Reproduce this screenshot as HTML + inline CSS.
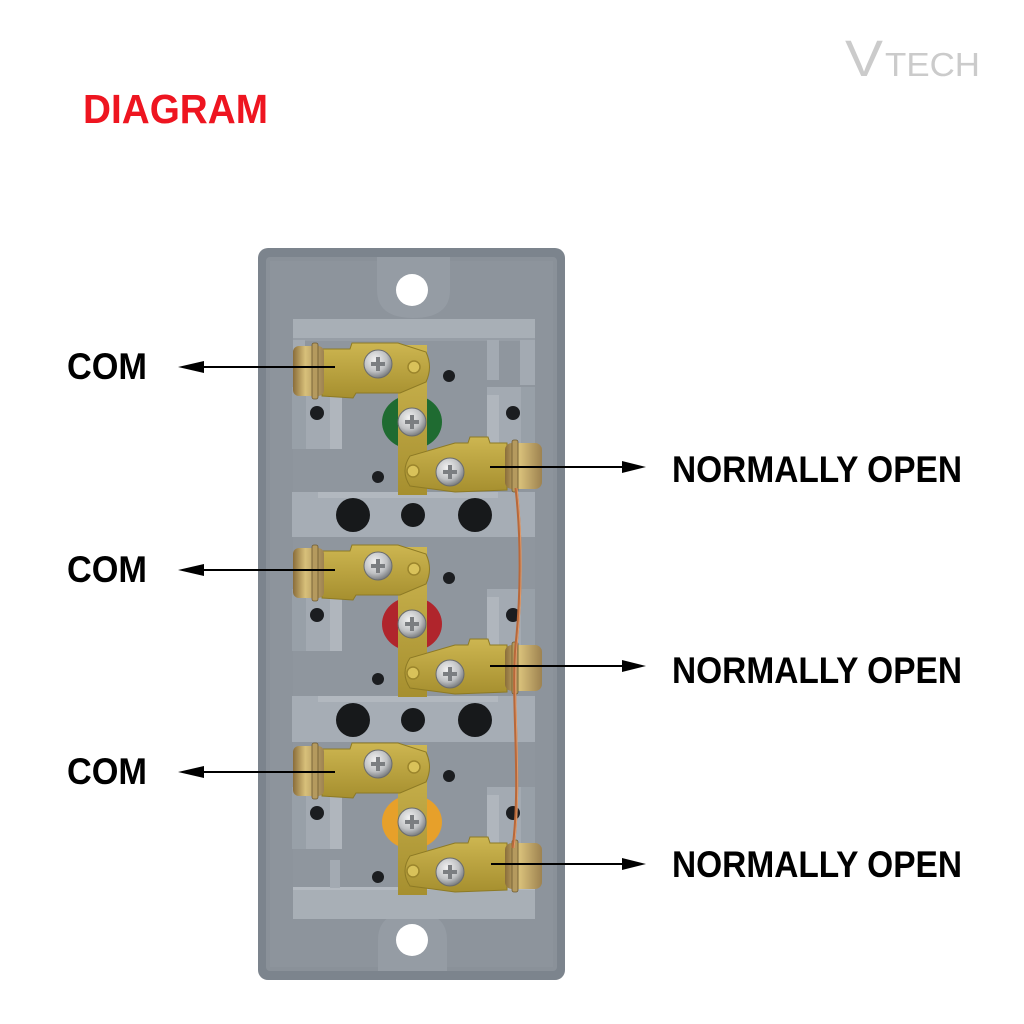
<!DOCTYPE html>
<html><head><meta charset="utf-8"><style>
html,body{margin:0;padding:0;background:#fff;}
svg{display:block;}
text{font-family:"Liberation Sans",Arial,sans-serif;}
</style></head><body>
<svg width="1024" height="1024" viewBox="0 0 1024 1024" xmlns="http://www.w3.org/2000/svg">
<defs>
  <radialGradient id="scr" cx="40%" cy="35%" r="70%">
    <stop offset="0" stop-color="#f2f2f2"/>
    <stop offset="0.6" stop-color="#bfc1c3"/>
    <stop offset="1" stop-color="#6e7174"/>
  </radialGradient>
  <linearGradient id="brass" x1="0" y1="0" x2="0" y2="1">
    <stop offset="0" stop-color="#cdb651"/>
    <stop offset="1" stop-color="#a68f2f"/>
  </linearGradient>
  <linearGradient id="term" x1="0" y1="0" x2="1" y2="0">
    <stop offset="0" stop-color="#8a6d3a"/>
    <stop offset="0.4" stop-color="#d8c07a"/>
    <stop offset="1" stop-color="#9d8250"/>
  </linearGradient>
  <g id="pscrew">
    <circle r="14" fill="url(#scr)" stroke="#6a6c6e" stroke-width="1"/>
    <path d="M-7,-2 H-2 V-7 H2 V-2 H7 V2 H2 V7 H-2 V2 H-7 Z" fill="#7b7e81"/>
  </g>
  <g id="row">
    <!-- side blocks -->
    <rect x="292" y="387" width="50" height="62" fill="#a3aab2"/>
    <rect x="292" y="387" width="14" height="62" fill="#98a0a8"/>
    <rect x="330" y="395" width="12" height="54" fill="#b0b6bd"/>
    <circle cx="317" cy="413" r="7" fill="#1b1d20"/>
    <rect x="487" y="387" width="48" height="62" fill="#a3aab2"/>
    <rect x="487" y="395" width="12" height="54" fill="#b0b6bd"/>
    <rect x="521" y="387" width="14" height="62" fill="#98a0a8"/>
    <circle cx="513" cy="413" r="7" fill="#1b1d20"/>
    <circle cx="449" cy="376" r="6" fill="#1b1d20"/>
    <circle cx="378" cy="477" r="6" fill="#1b1d20"/>
    <!-- colored disc -->
    <ellipse cx="412" cy="422" rx="30" ry="27" fill="var(--dc)"/>
    <!-- vertical strip -->
    <rect x="398" y="345" width="29" height="150" fill="url(#brass)"/>
    <!-- COM plate -->
    <path d="M322,349 L350,349 L352,343 L398,343 L426,352 Q433,367 426,382 L400,393 L356,393 L353,398 L322,396 Z" fill="url(#brass)" stroke="#8d7a25" stroke-width="1"/>
    <rect x="293" y="346" width="31" height="50" rx="6" fill="url(#term)"/>
    <rect x="312" y="343" width="6" height="56" rx="2" fill="#b59a5e" stroke="#6e5a30" stroke-width="0.8"/>
    <use href="#pscrew" x="378" y="364"/>
    <circle cx="414" cy="367" r="6" fill="#d9c25a" stroke="#9b852c" stroke-width="1.5"/>
    <use href="#pscrew" x="412" y="422"/>
    <!-- NO plate -->
    <path d="M507,443 L490,443 L488,437 L470,437 L468,443 L455,443 L410,456 Q400,471 410,486 L455,492 L507,490 Z" fill="url(#brass)" stroke="#8d7a25" stroke-width="1"/>
    <circle cx="413" cy="471" r="6" fill="#d9c25a" stroke="#9b852c" stroke-width="1.5"/>
    <use href="#pscrew" x="450" y="472"/>
    <rect x="505" y="443" width="37" height="46" rx="7" fill="url(#term)"/>
    <rect x="512" y="440" width="6" height="52" rx="2" fill="#b59a5e" stroke="#6e5a30" stroke-width="0.8"/>
  </g>
</defs>

<rect width="1024" height="1024" fill="#fff"/>

<!-- Title -->
<text x="83" y="123" font-size="41" font-weight="bold" fill="#ee1520" textLength="185" lengthAdjust="spacingAndGlyphs">DIAGRAM</text>
<!-- Logo -->
<text x="845" y="76" font-size="51" fill="#cbcbcb" textLength="38" lengthAdjust="spacingAndGlyphs">V</text>
<text x="885" y="76" font-size="33" fill="#cbcbcb" textLength="95" lengthAdjust="spacingAndGlyphs">TECH</text>

<!-- Plate -->
<rect x="258" y="248" width="307" height="732" rx="10" fill="#7c848d"/>
<rect x="266" y="257" width="291" height="714" rx="4" fill="#8a9199"/>
<rect x="270" y="261" width="283" height="706" fill="#8d949c"/>
<!-- inner area -->
<rect x="293" y="330" width="242" height="580" fill="#8f969e"/>

<!-- top tab -->
<path d="M377,257 L450,257 L450,290 Q450,318 413,318 Q377,318 377,290 Z" fill="#959ca4"/>
<circle cx="412" cy="290" r="16" fill="#fff"/>
<!-- bottom tab -->
<path d="M378,971 L447,971 L447,940 Q447,912 412,912 Q378,912 378,940 Z" fill="#959ca4"/>
<circle cx="412" cy="940" r="16" fill="#fff"/>

<!-- top bracket -->
<rect x="293" y="319" width="242" height="22" fill="#a8afb6"/>
<rect x="293" y="338" width="242" height="3" fill="#979ea6"/>
<rect x="487" y="340" width="12" height="40" fill="#a3aab2"/>
<rect x="520" y="340" width="15" height="45" fill="#a3aab2"/>
<rect x="293" y="340" width="12" height="10" fill="#a3aab2"/>

<!-- separators -->
<rect x="292" y="492" width="243" height="45" fill="#a6adb5"/>
<rect x="318" y="492" width="180" height="6" fill="#b2b8bf"/>
<circle cx="353" cy="515" r="17" fill="#17191b"/>
<circle cx="413" cy="515" r="12" fill="#17191b"/>
<circle cx="475" cy="515" r="17" fill="#17191b"/>

<rect x="292" y="696" width="243" height="46" fill="#a6adb5"/>
<rect x="318" y="696" width="180" height="6" fill="#b2b8bf"/>
<circle cx="353" cy="720" r="17" fill="#17191b"/>
<circle cx="413" cy="720" r="12" fill="#17191b"/>
<circle cx="475" cy="720" r="17" fill="#17191b"/>

<!-- bottom bracket -->
<rect x="293" y="887" width="242" height="32" fill="#a8afb6"/>
<rect x="293" y="887" width="242" height="3" fill="#b4bac1"/>
<rect x="330" y="860" width="10" height="28" fill="#a3aab2"/>

<!-- rows -->
<use href="#row" style="--dc:#1f6b31"/>
<use href="#row" y="202" style="--dc:#b0252c"/>
<use href="#row" y="400" style="--dc:#e7a02a"/>

<!-- copper wire -->
<path d="M516,488 C522,540 521,600 516,645 C511,700 522,780 513,848" fill="none" stroke="#b8683a" stroke-width="3"/>
<path d="M517,488 C523,540 522,600 517,645 C512,700 523,780 514,848" fill="none" stroke="#e09a6a" stroke-width="1"/>

<!-- COM arrows -->
<g stroke="#000" stroke-width="2">
  <line x1="200" y1="367" x2="335" y2="367"/>
  <line x1="200" y1="570" x2="335" y2="570"/>
  <line x1="200" y1="772" x2="335" y2="772"/>
  <line x1="490" y1="467" x2="628" y2="467"/>
  <line x1="490" y1="666" x2="628" y2="666"/>
  <line x1="491" y1="864" x2="628" y2="864"/>
</g>
<g fill="#000">
  <polygon points="178,367 204,361 204,373"/>
  <polygon points="178,570 204,564 204,576"/>
  <polygon points="178,772 204,766 204,778"/>
  <polygon points="646,467 622,461 622,473"/>
  <polygon points="646,666 622,660 622,672"/>
  <polygon points="646,864 622,858 622,870"/>
</g>

<!-- labels -->
<g font-size="37" font-weight="bold" fill="#000">
  <text x="67" y="379" textLength="80" lengthAdjust="spacingAndGlyphs">COM</text>
  <text x="67" y="582" textLength="80" lengthAdjust="spacingAndGlyphs">COM</text>
  <text x="67" y="784" textLength="80" lengthAdjust="spacingAndGlyphs">COM</text>
  <text x="672" y="482" textLength="290" lengthAdjust="spacingAndGlyphs">NORMALLY OPEN</text>
  <text x="672" y="683" textLength="290" lengthAdjust="spacingAndGlyphs">NORMALLY OPEN</text>
  <text x="672" y="877" textLength="290" lengthAdjust="spacingAndGlyphs">NORMALLY OPEN</text>
</g>
</svg>
</body></html>
